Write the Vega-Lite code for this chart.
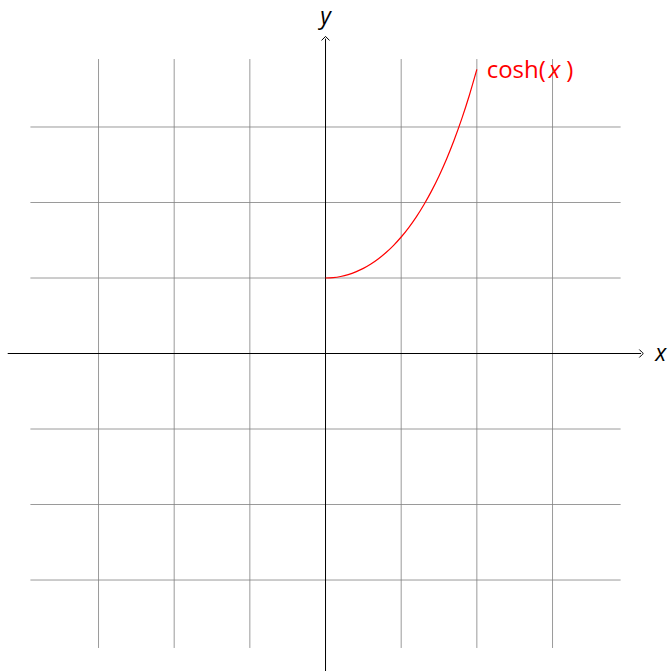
{
  "$schema": "https://vega.github.io/schema/vega-lite/v6.json",
  "width": 672,
  "height": 671,
  "autosize": {"type": "none"},
  "padding": 0,
  "config": {"view": {"stroke": null}},
  "datasets": {
    "vgrid": [{"gx": -3}, {"gx": -2}, {"gx": -1}, {"gx": 1}, {"gx": 2}, {"gx": 3}],
    "hgrid": [{"gy": -3}, {"gy": -2}, {"gy": -1}, {"gy": 1}, {"gy": 2}, {"gy": 3}],
    "curve": [
      {"x": 0.0, "y": 1.0},
      {"x": 0.1, "y": 1.005004},
      {"x": 0.2, "y": 1.020067},
      {"x": 0.3, "y": 1.045339},
      {"x": 0.4, "y": 1.081072},
      {"x": 0.5, "y": 1.127626},
      {"x": 0.6, "y": 1.185465},
      {"x": 0.7, "y": 1.255169},
      {"x": 0.8, "y": 1.337435},
      {"x": 0.9, "y": 1.433086},
      {"x": 1.0, "y": 1.543081},
      {"x": 1.1, "y": 1.668519},
      {"x": 1.2, "y": 1.810656},
      {"x": 1.3, "y": 1.970914},
      {"x": 1.4, "y": 2.150898},
      {"x": 1.5, "y": 2.35241},
      {"x": 1.6, "y": 2.577464},
      {"x": 1.7, "y": 2.828315},
      {"x": 1.8, "y": 3.107473},
      {"x": 1.9, "y": 3.417732},
      {"x": 2.0, "y": 3.762196}
    ]
  },
  "layer": [
    {
      "data": {"name": "vgrid"},
      "mark": {"type": "rule", "color": "#808080", "strokeWidth": 0.8},
      "encoding": {
        "x": {"field": "gx", "type": "quantitative", "scale": {"domain": [-4.302, 4.579], "nice": false, "zero": false}, "axis": null},
        "y": {"datum": -3.9, "type": "quantitative", "scale": {"domain": [-4.205, 4.682], "nice": false, "zero": false}, "axis": null},
        "y2": {"datum": 3.9}
      }
    },
    {
      "data": {"name": "hgrid"},
      "mark": {"type": "rule", "color": "#808080", "strokeWidth": 0.8},
      "encoding": {
        "y": {"field": "gy", "type": "quantitative"},
        "x": {"datum": -3.9, "type": "quantitative"},
        "x2": {"datum": 3.9}
      }
    },
    {
      "data": {"values": [{"a": 0}]},
      "mark": {"type": "rule", "color": "black", "strokeWidth": 1},
      "encoding": {
        "y": {"datum": 0, "type": "quantitative"},
        "x": {"datum": -4.2, "type": "quantitative"},
        "x2": {"datum": 4.17}
      }
    },
    {
      "data": {"values": [{"a": 0}]},
      "mark": {"type": "rule", "color": "black", "strokeWidth": 1},
      "encoding": {
        "x": {"datum": 0, "type": "quantitative"},
        "y": {"datum": -4.3, "type": "quantitative"},
        "y2": {"datum": 4.17}
      }
    },
    {
      "data": {"values": [{"a": 0}]},
      "mark": {"type": "point", "shape": "M-1,-1 Q-0.3,-0.25 0,0 Q-0.3,0.25 -1,1", "filled": false, "stroke": "black", "strokeWidth": 1, "size": 64, "opacity": 1},
      "encoding": {
        "x": {"datum": 4.2, "type": "quantitative"},
        "y": {"datum": 0, "type": "quantitative"}
      }
    },
    {
      "data": {"values": [{"a": 0}]},
      "mark": {"type": "point", "shape": "M-1,-1 Q-0.3,-0.25 0,0 Q-0.3,0.25 -1,1", "filled": false, "stroke": "black", "strokeWidth": 1, "size": 64, "opacity": 1, "angle": -90},
      "encoding": {
        "x": {"datum": 0, "type": "quantitative"},
        "y": {"datum": 4.2, "type": "quantitative"}
      }
    },
    {
      "data": {"name": "curve"},
      "mark": {"type": "line", "color": "red", "strokeWidth": 1.2, "interpolate": "monotone"},
      "encoding": {
        "x": {"field": "x", "type": "quantitative"},
        "y": {"field": "y", "type": "quantitative"}
      }
    },
    {
      "data": {"values": [{"t": "x", "px": 4.43, "py": 0}, {"t": "y", "px": 0, "py": 4.46}]},
      "mark": {"type": "text", "font": "Open Sans", "fontSize": 23, "fontStyle": "italic", "align": "center", "baseline": "middle", "color": "black"},
      "encoding": {
        "x": {"field": "px", "type": "quantitative"},
        "y": {"field": "py", "type": "quantitative"},
        "text": {"field": "t"}
      }
    },
    {
      "data": {"values": [{"t": "cosh(", "px": 2.13, "py": 3.74}, {"t": ")", "px": 3.18, "py": 3.74}]},
      "mark": {"type": "text", "font": "Open Sans", "fontSize": 24, "align": "left", "baseline": "middle", "color": "red"},
      "encoding": {
        "x": {"field": "px", "type": "quantitative"},
        "y": {"field": "py", "type": "quantitative"},
        "text": {"field": "t"}
      }
    },
    {
      "data": {"values": [{"t": "x", "px": 2.95, "py": 3.74}]},
      "mark": {"type": "text", "font": "Open Sans", "fontSize": 24, "fontStyle": "italic", "align": "left", "baseline": "middle", "color": "red"},
      "encoding": {
        "x": {"field": "px", "type": "quantitative"},
        "y": {"field": "py", "type": "quantitative"},
        "text": {"field": "t"}
      }
    }
  ]
}
